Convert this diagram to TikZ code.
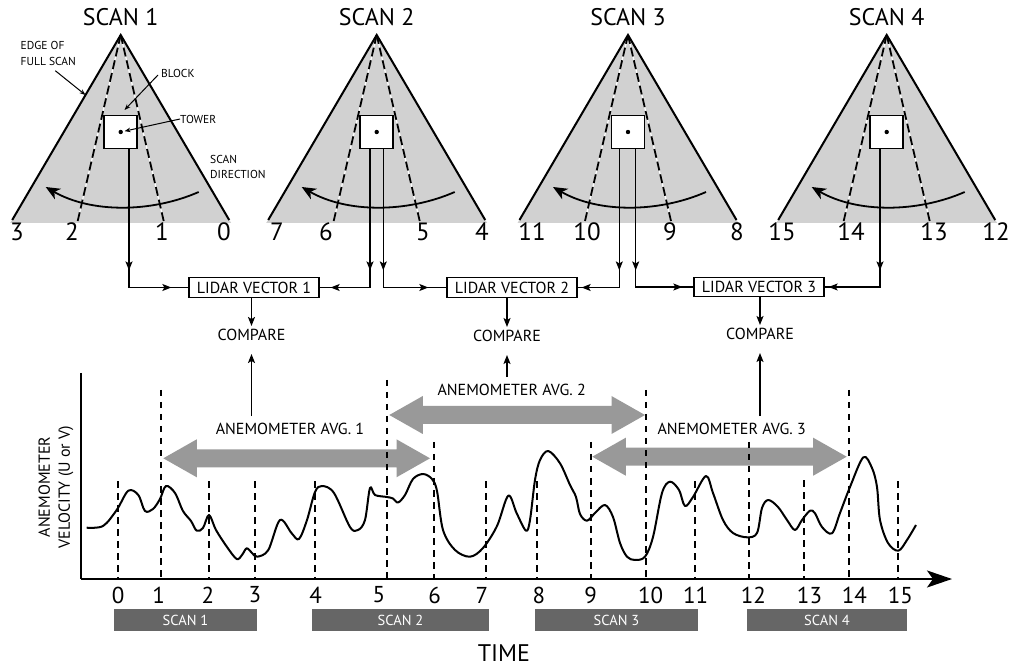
\documentclass[tikz,border=0pt]{standalone}
\usepackage{fontspec}
\setmainfont{PT Sans}
\usetikzlibrary{arrows.meta,decorations.markings,calc}
\definecolor{scanfill}{RGB}{209,209,209}
\definecolor{avgfill}{RGB}{153,153,153}
\definecolor{barfill}{RGB}{102,102,102}
\tikzset{
  title/.style={font=\fontsize{24}{28}\selectfont, inner sep=0pt},
  num/.style={font=\fontsize{25}{28}\selectfont, inner sep=0pt},
  ticknum/.style={font=\fontsize{23}{26}\selectfont, inner sep=0pt},
  med/.style={font=\fontsize{16}{20}\selectfont, inner sep=0pt},
  note/.style={font=\fontsize{11.5}{15.5}\selectfont, inner sep=0pt, align=left},
  scanedge/.style={line width=2pt},
  scandash/.style={line width=1.8pt, dash pattern=on 9pt off 4pt},
  sweep/.style={line width=1.8pt, -{Stealth[length=14pt,width=12pt,inset=4pt]}},
  blockbox/.style={draw, fill=white, line width=1.8pt, minimum size=33pt, inner sep=0pt},
  towerdot/.style={circle, fill, inner sep=0pt, minimum size=4.4pt},
  ann/.style={line width=1pt, -{Stealth[length=6pt,width=4.5pt]}},
  lidarbox/.style={med, draw, line width=1.3pt, minimum width=130pt, minimum height=19.6pt},
  conn/.style={line width=1.2pt},
  tip/.style={-{Stealth[length=9pt,width=7pt,inset=2pt]}},
  twomarks/.style 2 args={postaction={decorate}, decoration={markings,
      mark=at position #1 with {\arrow{Stealth[length=9pt,width=7pt,inset=2pt]}},
      mark=at position #2 with {\arrow{Stealth[length=9pt,width=7pt,inset=2pt]}}}},
  gdash/.style={line width=2pt, dash pattern=on 6.5pt off 5.5pt},
  axis/.style={line width=2.2pt},
  curve/.style={line width=2pt, line join=round},
  bar/.style={fill=barfill, text=white, font=\fontsize{14.5}{16}\selectfont, minimum height=21.4pt, inner sep=0pt},
}
\begin{document}
\begin{tikzpicture}[x=1pt,y=-1pt]
\useasboundingbox (0,0) rectangle (1013,668);

% ---------- scans ----------
\foreach \i/\ax in {1/120.7,2/376.7,3/628,4/886.7}{
  \fill[scanfill] (\ax,35) -- (\ax-110.5,223) -- (\ax+110.5,223) -- cycle;
  \foreach \s in {-43,43}{
    \draw[white,line width=1.2pt] (\ax,35) -- (\ax+\s,221);
    \draw[scandash] (\ax,35) -- (\ax+\s,221);
  }
  \draw[scanedge] (\ax-108.5,220) -- (\ax,35) -- (\ax+108.5,220);
  \draw[sweep] (\ax+78,192) .. controls (\ax+30,213) and (\ax-30,213) .. (\ax-75,187);
  \node[blockbox] (blk\i) at (\ax,132) {};
  \node[towerdot] (twr\i) at (\ax,132) {};
  \node[title] (ttl\i) at (\ax,17) {SCAN \i};
}

% scan angle numbers
\foreach \n/\x in {3/17,2/72,1/162,0/224,7/277,6/326,5/423,4/482,11/532,10/587,9/670,8/737,15/782,14/851,13/934,12/996}{
  \node[num] (sn\n) at (\x,232) {\n};
}

% scan 1 annotations
\node[note, anchor=north west] (edgelbl) at (20.5,41.5) {EDGE OF\\FULL SCAN};
\coordinate (edgept) at (85.5,95);
\draw[ann] ($(edgelbl.south)+(7,5)$) -- (edgept);
\node[note, anchor=west] (blocklbl) at (161,73) {BLOCK};
\coordinate (blockpt) at (124.5,110);
\draw[ann] ($(blocklbl.west)+(-3,2)$) -- (blockpt);
\node[note, anchor=west] (towerlbl) at (180,119) {TOWER};
\draw[ann, shorten >=1.5pt] (towerlbl.west) -- (twr1);
\node[note, anchor=north west] (dirlbl) at (210,155) {SCAN\\DIRECTION};

% ---------- lidar vectors ----------
\node[lidarbox] (lv1) at (254,287.5) {LIDAR VECTOR 1};
\node[lidarbox] (lv2) at (512,287.5) {LIDAR VECTOR 2};
\node[lidarbox] (lv3) at (759,287) {LIDAR VECTOR 3};

\draw[conn, twomarks={121pt}{-17pt}] ($(blk1.south)+(8.3,0)$) |- (lv1.west);
\draw[conn, twomarks={121pt}{-11pt}] ($(blk2.south)+(-6.7,0)$) |- (lv1.east);
\draw[conn, twomarks={121pt}{-18pt}] ($(blk2.south)+(6.6,0)$) |- (lv2.west);
\draw[conn, twomarks={121pt}{-4pt}] ($(blk3.south)+(-8.7,0)$) |- (lv2.east);
\draw[conn, twomarks={121pt}{-11pt}] ($(blk3.south)+(7.7,0)$) |- (lv3.west);
\draw[conn, twomarks={121pt}{-4pt}] ($(blk4.south)+(-6.7,0)$) |- (lv3.east);

\node[med, inner sep=3pt] (cmp1) at (251.5,335) {COMPARE};
\node[med, inner sep=3pt] (cmp2) at (507,336) {COMPARE};
\node[med, inner sep=3pt] (cmp3) at (760,334) {COMPARE};
\foreach \k in {1,2,3}{
  \draw[conn, tip] (lv\k.south -| cmp\k) -- (cmp\k.north);
}

% ---------- anemometer averages ----------
\foreach \xl/\xr/\c in {163.3/430/458.3, 389.3/645/415, 592.3/846.7/456.7}{
  \fill[avgfill] (\xl,\c) -- (\xl+33.5,\c-19) -- (\xl+33.5,\c-9) -- (\xr-33.5,\c-9)
    -- (\xr-33.5,\c-19) -- (\xr,\c) -- (\xr-33.5,\c+19) -- (\xr-33.5,\c+9)
    -- (\xl+33.5,\c+9) -- (\xl+33.5,\c+19) -- cycle;
}
\node[med, inner sep=7pt] (avg1) at (290,429) {ANEMOMETER AVG. 1};
\node[med, inner sep=7pt] (avg2) at (511.7,390) {ANEMOMETER AVG. 2};
\node[med, inner sep=7pt] (avg3) at (731.7,429) {ANEMOMETER AVG. 3};
\foreach \k in {1,2,3}{
  \draw[conn, tip, shorten >=10pt] (avg\k.north -| cmp\k) -- (cmp\k.south);
}

% ---------- graph ----------
\foreach \x/\t in {117.7/481, 160.7/390, 209.3/481, 255.3/481, 315.3/481, 387.3/380,
  434.3/442, 486/481, 537.3/481, 590.7/442, 646/390, 695/481, 749.3/442, 804/480,
  849.3/390, 898.3/481}{
  \draw[gdash] (\x,\t) -- (\x,579);
}
\coordinate (ytop) at (81,373);
\coordinate (origin) at (81,579);
\coordinate (xend) at (952,579);
\draw[axis] (ytop) -- (origin);
\draw[axis, -{Stealth[length=25pt,width=17pt,inset=6pt]}] (origin) -- (xend);

\draw[curve] plot[smooth, tension=0.55] coordinates {
(86.7,527.7) (103,526) (116.7,510) (128.3,490.7) (138.3,495) (145,511) (153,509)
(160,499) (166,486) (175,493) (183,511) (191,521) (196.7,530.7) (203,528) (209,515)
(216,530) (227,547) (236.7,559) (242,555) (246.7,548.3) (252,553) (257.3,556.7)
(268.3,550) (280,520) (291.7,533.3) (299,539) (307,520) (315,492) (322,486) (334,493)
(350,527) (358,530) (365,520) (370,488) (375,495) (387,497) (393,498.5) (398,502.5)
(405,495) (413,479) (423,474) (432,479) (437,491) (443,530) (455,550) (470,556.7)
(483,548) (497,526) (508.3,495.7) (516.7,513.3) (526,530.7) (530,520) (535,480)
(540,460) (548.3,451) (560,463.3) (570,485) (576,497) (580,514) (587,520.7) (595,513)
(605,505) (613,517) (620,543) (627,556.7) (635,560) (645,556.7) (653,537) (662,493)
(670,481.7) (679,490) (685,506) (693,497) (706,476) (713,493) (723,520) (733,533)
(747,537.3) (757,533) (762,508) (768.3,500) (778,507) (787,520) (795,530) (802,520)
(810,510.7) (815,513.3) (822,527) (832,533.3) (840,513) (850,487) (863.3,457.3)
(872,468) (877,487) (880,520) (888,543) (898.3,550.7) (907,540) (916,525)};

\node[med, rotate=90, align=center, font=\fontsize{16}{20}\selectfont] (ylab) at (56,487) {ANEMOMETER\\VELOCITY (U or V)};

\foreach \n/\x in {0/118.2,1/158.6,2/208,3/255,4/315.7,5/379,6/434.7,7/481.8,8/539,9/590.7,10/650.7,11/695.6,12/753.4,13/809.5,14/854.4,15/900.4}{
  \node[ticknum] (tn\n) at (\x,595) {\n};
}

\node[bar, minimum width=143pt] (bar1) at (185.5,620) {SCAN 1};
\node[bar, minimum width=177pt] (bar2) at (400.5,620) {SCAN 2};
\node[bar, minimum width=163pt] (bar3) at (616.5,620) {SCAN 3};
\node[bar, minimum width=160pt] (bar4) at (827,620) {SCAN 4};

\node[title, font=\fontsize{24}{28}\selectfont] (time) at (504,653) {TIME};
\end{tikzpicture}
\end{document}
